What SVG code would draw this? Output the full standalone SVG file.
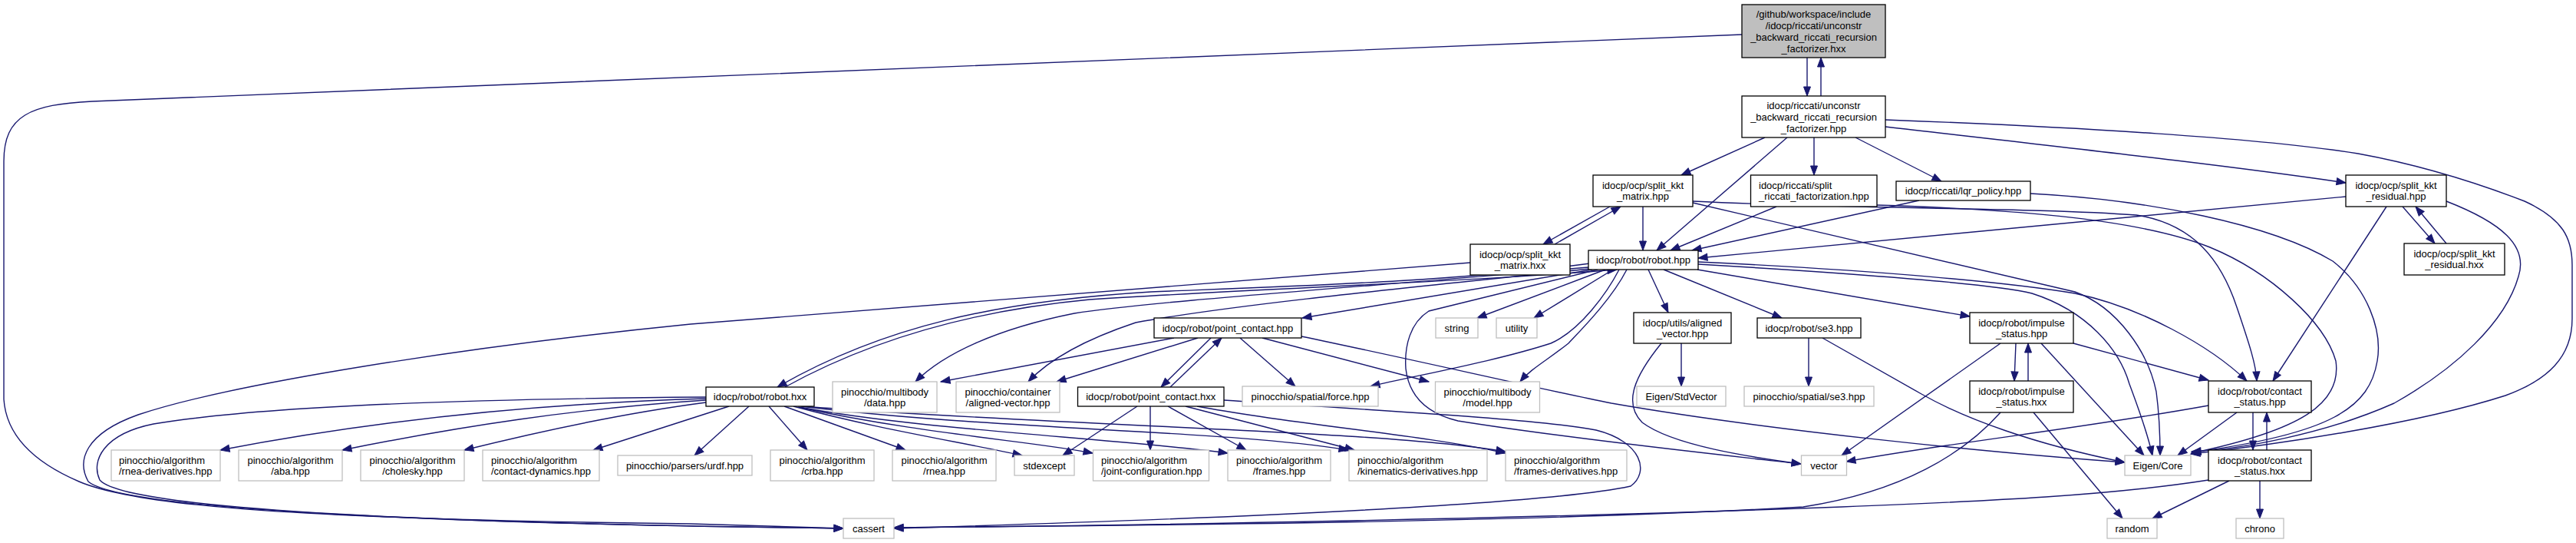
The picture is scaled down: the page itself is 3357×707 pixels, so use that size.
<svg xmlns="http://www.w3.org/2000/svg" width="3357" height="707" viewBox="0 0 3357 707">
<style>
text{font-family:"Liberation Sans",Arial,sans-serif;font-size:13px;fill:#000}
.c{text-anchor:middle}
.b rect{fill:#fff;stroke:#000;stroke-width:1.3}
.g rect{fill:#fff;stroke:#bfbfbf;stroke-width:1.3}
#n1 rect{fill:#bfbfbf}
#edges path{fill:none;stroke:#191970;stroke-width:1.4;marker-end:url(#ah)}
</style>
<defs>
<marker id="ah" markerWidth="12" markerHeight="9" refX="12" refY="4.5" orient="auto" markerUnits="userSpaceOnUse" overflow="visible"><path d="M0,0L12,4.5L0,9z" fill="#191970" stroke="#191970" stroke-width="1"/></marker>
</defs>
<rect width="3357" height="707" fill="#fff"/>
<g id="edges">
<path d="M2355,75L2355,125"/>
<path d="M2373,125L2373,75"/>
<path d="M2270,45L120,132C40,136 5,150 5,210L5,520C8,565 40,600 103,627C180,660 400,676 900,682L1099,688"/>
<path d="M2300,179L2191,228"/>
<path d="M2329,179L2159,326"/>
<path d="M2364,179L2364,228"/>
<path d="M2418,179L2530,236"/>
<path d="M2457,165C2700,193 2900,215 3057,238"/>
<path d="M2457,156C2700,165 2950,180 3073,200C3150,214 3220,235 3290,262C3340,285 3352,310 3352,345L3352,415C3352,465 3320,495 3265,515C3150,552 2960,580 2855,591"/>
<path d="M2141,269L2141,326"/>
<path d="M2098,269L2011,318"/>
<path d="M2026,318L2112,269"/>
<path d="M2206,262C2400,272 2650,270 2784,280C2860,292 2895,340 2915,400C2932,450 2940,475 2941,496"/>
<path d="M2206,264L2704,380C2760,400 2800,460 2810,510C2814,540 2815,570 2815,593"/>
<path d="M2315,269L2177,326"/>
<path d="M2446,267C2600,272 2780,282 2880,322C2960,355 3030,420 3044,470C3052,525 3000,560 2856,590"/>
<path d="M2501,261L2205,326"/>
<path d="M2646,252C2800,260 2960,292 3040,340C3085,375 3105,430 3098,470C3088,530 3040,565 2856,589"/>
<path d="M3131,269L3173,317"/>
<path d="M3188,317L3148,269"/>
<path d="M3057,256L2213,336"/>
<path d="M3110,269L2962,496"/>
<path d="M3188,262C3260,290 3295,320 3282,360C3265,420 3200,480 3120,525C3030,565 2920,585 2856,588"/>
<path d="M1916,342L900,422C600,452 300,500 180,540C110,565 100,600 115,627C160,665 600,682 1099,688"/>
<path d="M2072,343C1900,366 1700,372 1500,380C1300,392 1150,425 1013,504"/>
<path d="M1023,504C1130,445 1260,405 1420,390C1650,375 1900,368 2107,351"/>
<path d="M2070,348C1800,372 1500,392 1400,408C1300,428 1230,460 1193,497"/>
<path d="M2072,350C1800,378 1600,398 1480,420C1420,440 1370,465 1340,497"/>
<path d="M2075,351L1697,414"/>
<path d="M2082,351L1862,405C1838,420 1830,450 1832,480C1836,515 1858,538 1900,548C2050,572 2250,593 2347,604"/>
<path d="M2092,351L1925,414"/>
<path d="M2102,351L1999,414"/>
<path d="M2110,351C2095,380 2060,430 2021,447C1950,470 1850,488 1786,503"/>
<path d="M2120,351C2100,390 2060,430 2044,447C2015,470 1995,480 1981,497"/>
<path d="M2148,351L2174,407"/>
<path d="M2168,351L2322,414"/>
<path d="M2212,351L2567,412"/>
<path d="M2213,341C2450,352 2620,368 2704,382C2790,400 2880,450 2928,496"/>
<path d="M2213,344C2450,358 2600,370 2648,382C2720,405 2762,455 2775,500C2790,540 2800,570 2805,593"/>
<path d="M920,519C720,525 500,545 287,586"/>
<path d="M920,521C750,532 600,555 446,586"/>
<path d="M920,524C820,537 710,560 605,586"/>
<path d="M950,529L773,586"/>
<path d="M920,517C650,519 350,527 200,552C135,565 118,600 130,625C165,665 600,682 1099,688"/>
<path d="M976,529L905,593"/>
<path d="M1002,529L1052,586"/>
<path d="M1022,529L1180,586"/>
<path d="M1034,529C1150,560 1250,575 1332,593"/>
<path d="M1040,530C1200,565 1350,575 1424,590"/>
<path d="M1042,530C1200,560 1450,570 1600,590"/>
<path d="M1044,529C1300,560 1600,560 1757,586"/>
<path d="M1046,529C1400,556 1800,560 1962,588"/>
<path d="M1530,440L1226,497"/>
<path d="M1561,440L1377,497"/>
<path d="M1578,440L1513,504"/>
<path d="M1525,504L1592,440"/>
<path d="M1616,440L1688,503"/>
<path d="M1645,440L1862,497"/>
<path d="M1696,438C1850,470 2000,505 2100,525C2300,560 2600,590 2769,602"/>
<path d="M1482,529L1385,593"/>
<path d="M1499,529L1499,586"/>
<path d="M1522,529L1624,586"/>
<path d="M1545,529L1765,586"/>
<path d="M1560,529C1700,555 1850,565 1962,590"/>
<path d="M1595,521C1800,535 2000,545 2080,560C2140,575 2150,615 2125,633C2000,660 1500,678 1165,688"/>
<path d="M2191,447L2191,503"/>
<path d="M2165,447C2130,490 2115,525 2140,550C2180,580 2280,595 2347,604"/>
<path d="M2357,440L2357,503"/>
<path d="M2375,440L2504,513C2560,545 2650,578 2769,602"/>
<path d="M2627,447L2625,496"/>
<path d="M2643,496L2643,447"/>
<path d="M2607,447L2400,593"/>
<path d="M2660,447L2794,593"/>
<path d="M2702,447L2878,495"/>
<path d="M2607,537C2560,590 2480,640 2350,660C2000,680 1500,684 1165,687"/>
<path d="M2650,537L2766,675"/>
<path d="M2878,528C2700,560 2550,575 2406,601"/>
<path d="M2915,537L2838,593"/>
<path d="M2936,537L2936,586"/>
<path d="M2954,586L2954,537"/>
<path d="M2878,625C2750,645 2600,652 2400,660C2000,675 1500,684 1165,687"/>
<path d="M2905,626L2805,675"/>
<path d="M2945,626L2945,675"/>
</g>
<g id="n1" class="b"><rect x="2270" y="6" width="187" height="69"/><text class="c" x="2363.5" y="22.5">/github/workspace/include</text><text class="c" x="2363.5" y="37.5">/idocp/riccati/unconstr</text><text class="c" x="2363.5" y="52.5">_backward_riccati_recursion</text><text class="c" x="2363.5" y="67.5">_factorizer.hxx</text></g>
<g id="n2" class="b"><rect x="2270" y="125" width="187" height="54"/><text class="c" x="2363.5" y="141.5">idocp/riccati/unconstr</text><text class="c" x="2363.5" y="156.5">_backward_riccati_recursion</text><text class="c" x="2363.5" y="171.5">_factorizer.hpp</text></g>
<g id="n3" class="b"><rect x="2076" y="228" width="130" height="41"/><text class="c" x="2141" y="246">idocp/ocp/split_kkt</text><text class="c" x="2141" y="260">_matrix.hpp</text></g>
<g id="n4" class="b"><rect x="2281.5" y="228" width="164.5" height="41"/><text x="2292" y="246">idocp/riccati/split</text><text x="2292" y="260">_riccati_factorization.hpp</text></g>
<g id="n5" class="b"><rect x="2471" y="236" width="175" height="25"/><text class="c" x="2558.5" y="253">idocp/riccati/lqr_policy.hpp</text></g>
<g id="n6" class="b"><rect x="3057" y="228" width="131" height="41"/><text class="c" x="3122.5" y="246">idocp/ocp/split_kkt</text><text class="c" x="3122.5" y="260">_residual.hpp</text></g>
<g id="n7" class="b"><rect x="3133" y="317" width="131" height="41"/><text class="c" x="3198.5" y="335">idocp/ocp/split_kkt</text><text class="c" x="3198.5" y="349">_residual.hxx</text></g>
<g id="n8" class="b"><rect x="1916" y="318" width="130" height="40"/><text class="c" x="1981" y="335.5">idocp/ocp/split_kkt</text><text class="c" x="1981" y="349.5">_matrix.hxx</text></g>
<g id="n9" class="b"><rect x="2070" y="326" width="143" height="25"/><text class="c" x="2141.5" y="343">idocp/robot/robot.hpp</text></g>
<g id="n10" class="b"><rect x="1504" y="414" width="192" height="26"/><text class="c" x="1600" y="431.5">idocp/robot/point_contact.hpp</text></g>
<g id="n11" class="g"><rect x="1871" y="414" width="55" height="26"/><text class="c" x="1898.5" y="431.5">string</text></g>
<g id="n12" class="g"><rect x="1950" y="414" width="53" height="26"/><text class="c" x="1976.5" y="431.5">utility</text></g>
<g id="n13" class="b"><rect x="2129" y="407" width="127" height="40"/><text class="c" x="2192.5" y="424.5">idocp/utils/aligned</text><text class="c" x="2192.5" y="438.5">_vector.hpp</text></g>
<g id="n14" class="b"><rect x="2290" y="414" width="135" height="26"/><text class="c" x="2357.5" y="431.5">idocp/robot/se3.hpp</text></g>
<g id="n15" class="b"><rect x="2567" y="407" width="135" height="40"/><text class="c" x="2634.5" y="424.5">idocp/robot/impulse</text><text class="c" x="2634.5" y="438.5">_status.hpp</text></g>
<g id="n16" class="b"><rect x="920" y="504" width="141" height="25"/><text class="c" x="990.5" y="521">idocp/robot/robot.hxx</text></g>
<g id="n17" class="g"><rect x="1085" y="497" width="136" height="40"/><text class="c" x="1153" y="514.5">pinocchio/multibody</text><text class="c" x="1153" y="528.5">/data.hpp</text></g>
<g id="n18" class="g"><rect x="1246" y="497" width="135" height="40"/><text class="c" x="1313.5" y="514.5">pinocchio/container</text><text class="c" x="1313.5" y="528.5">/aligned-vector.hpp</text></g>
<g id="n19" class="b"><rect x="1404.5" y="504" width="190.5" height="25"/><text class="c" x="1499.75" y="521">idocp/robot/point_contact.hxx</text></g>
<g id="n20" class="g"><rect x="1619" y="503" width="177" height="26"/><text class="c" x="1707.5" y="520.5">pinocchio/spatial/force.hpp</text></g>
<g id="n21" class="g"><rect x="1870.5" y="497" width="136" height="40"/><text class="c" x="1938.5" y="514.5">pinocchio/multibody</text><text class="c" x="1938.5" y="528.5">/model.hpp</text></g>
<g id="n22" class="g"><rect x="2133" y="503" width="116" height="26"/><text class="c" x="2191" y="520.5">Eigen/StdVector</text></g>
<g id="n23" class="g"><rect x="2273" y="503" width="169" height="26"/><text class="c" x="2357.5" y="520.5">pinocchio/spatial/se3.hpp</text></g>
<g id="n24" class="b"><rect x="2567" y="496" width="135" height="41"/><text class="c" x="2634.5" y="514">idocp/robot/impulse</text><text class="c" x="2634.5" y="528">_status.hxx</text></g>
<g id="n25" class="b"><rect x="2878" y="496" width="134" height="41"/><text class="c" x="2945" y="514">idocp/robot/contact</text><text class="c" x="2945" y="528">_status.hpp</text></g>
<g id="n26" class="g"><rect x="145" y="586" width="142" height="40"/><text x="155" y="603.5">pinocchio/algorithm</text><text x="155" y="617.5">/rnea-derivatives.hpp</text></g>
<g id="n27" class="g"><rect x="311" y="586" width="135" height="40"/><text class="c" x="378.5" y="603.5">pinocchio/algorithm</text><text class="c" x="378.5" y="617.5">/aba.hpp</text></g>
<g id="n28" class="g"><rect x="470" y="586" width="135" height="40"/><text class="c" x="537.5" y="603.5">pinocchio/algorithm</text><text class="c" x="537.5" y="617.5">/cholesky.hpp</text></g>
<g id="n29" class="g"><rect x="629" y="586" width="152" height="40"/><text x="640" y="603.5">pinocchio/algorithm</text><text x="640" y="617.5">/contact-dynamics.hpp</text></g>
<g id="n30" class="g"><rect x="805" y="593" width="175" height="26"/><text class="c" x="892.5" y="610.5">pinocchio/parsers/urdf.hpp</text></g>
<g id="n31" class="g"><rect x="1004" y="586" width="135" height="40"/><text class="c" x="1071.5" y="603.5">pinocchio/algorithm</text><text class="c" x="1071.5" y="617.5">/crba.hpp</text></g>
<g id="n32" class="g"><rect x="1163" y="586" width="135" height="40"/><text class="c" x="1230.5" y="603.5">pinocchio/algorithm</text><text class="c" x="1230.5" y="617.5">/rnea.hpp</text></g>
<g id="n33" class="g"><rect x="1322" y="593" width="78" height="26"/><text class="c" x="1361" y="610.5">stdexcept</text></g>
<g id="n34" class="g"><rect x="1424.5" y="586" width="151" height="40"/><text x="1435" y="603.5">pinocchio/algorithm</text><text x="1435" y="617.5">/joint-configuration.hpp</text></g>
<g id="n35" class="g"><rect x="1600" y="586" width="134" height="40"/><text class="c" x="1667" y="603.5">pinocchio/algorithm</text><text class="c" x="1667" y="617.5">/frames.hpp</text></g>
<g id="n36" class="g"><rect x="1758" y="586" width="180" height="40"/><text x="1769" y="603.5">pinocchio/algorithm</text><text x="1769" y="617.5">/kinematics-derivatives.hpp</text></g>
<g id="n37" class="g"><rect x="1962" y="586" width="158" height="40"/><text x="1973" y="603.5">pinocchio/algorithm</text><text x="1973" y="617.5">/frames-derivatives.hpp</text></g>
<g id="n38" class="g"><rect x="2347.5" y="593" width="59" height="26"/><text class="c" x="2377" y="610.5">vector</text></g>
<g id="n39" class="g"><rect x="2769" y="593" width="86" height="26"/><text class="c" x="2812" y="610.5">Eigen/Core</text></g>
<g id="n40" class="b"><rect x="2878" y="586" width="134" height="40"/><text class="c" x="2945" y="603.5">idocp/robot/contact</text><text class="c" x="2945" y="617.5">_status.hxx</text></g>
<g id="n41" class="g"><rect x="1099" y="675" width="66" height="26"/><text class="c" x="1132" y="692.5">cassert</text></g>
<g id="n42" class="g"><rect x="2746" y="675" width="65" height="26"/><text class="c" x="2778.5" y="692.5">random</text></g>
<g id="n43" class="g"><rect x="2914" y="675" width="62" height="26"/><text class="c" x="2945" y="692.5">chrono</text></g>
</svg>
